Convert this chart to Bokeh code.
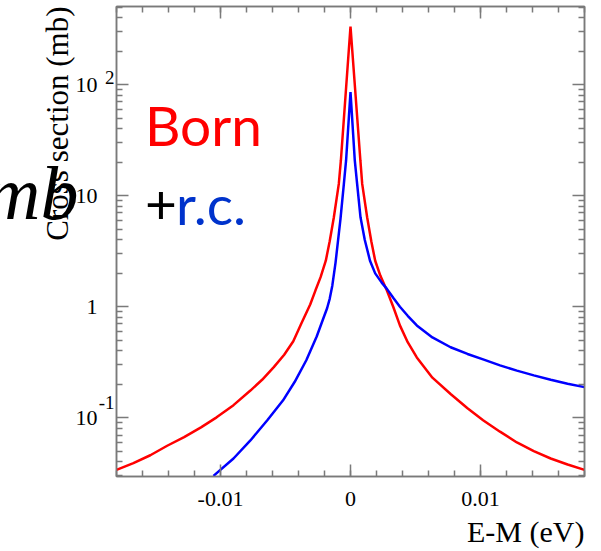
import numpy as np
from bokeh.plotting import figure
from bokeh.models import Range1d, FixedTicker, LinearAxis, LogAxis, Label, Title
from bokeh.embed import file_html
from bokeh.resources import INLINE

# ---- data ----
born_x = [-0.0180, -0.0167, -0.0154, -0.0141, -0.0128, -0.0115, -0.0103, -0.0090,
          -0.0077, -0.0068, -0.0059, -0.0051, -0.0044, -0.0038, -0.0031, -0.0027,
          -0.0023, -0.0019, -0.0016, -0.00128, -0.0009, -0.00074, 0.0,
          0.00076, 0.0009, 0.00128, 0.0016, 0.0019, 0.0023, 0.0028, 0.0033,
          0.0038, 0.0044, 0.0051, 0.0063, 0.0077, 0.0090, 0.0102, 0.0115,
          0.0128, 0.0141, 0.0154, 0.0167, 0.0180]
born_y = [0.034, 0.039, 0.046, 0.056, 0.067, 0.082, 0.101, 0.130,
          0.176, 0.22, 0.286, 0.37, 0.49, 0.70, 1.05, 1.40,
          1.85, 2.6, 3.9, 6.4, 12.8, 20.8, 335.0,
          20.8, 12.8, 6.4, 3.9, 2.6, 1.9, 1.40, 0.99,
          0.68, 0.48, 0.35, 0.23, 0.164, 0.122, 0.095, 0.075,
          0.060, 0.050, 0.043, 0.038, 0.034]

rc_x = [-0.01054, -0.0090, -0.0077, -0.0064, -0.0052, -0.0043, -0.0034, -0.0026,
        -0.0021, -0.0018, -0.0016, -0.0014, -0.00115, -0.00077, -0.00051, -0.00034, 0.0,
        0.00033, 0.00051, 0.00077, 0.0011, 0.0015, 0.0019, 0.0024, 0.0028, 0.0033,
        0.0038, 0.0044, 0.0051, 0.0063, 0.0077, 0.0090, 0.0102, 0.0115, 0.0128,
        0.0141, 0.0154, 0.0167, 0.0180]
rc_y = [0.030, 0.043, 0.0625, 0.095, 0.143, 0.21, 0.33, 0.54,
        0.78, 0.97, 1.18, 1.55, 2.5, 6.2, 12.8, 20.8, 86.0,
        20.8, 12.8, 6.4, 4.0, 2.6, 2.0, 1.65, 1.45, 1.20,
        1.0, 0.83, 0.68, 0.53, 0.432, 0.376, 0.336, 0.297, 0.266,
        0.241, 0.220, 0.203, 0.189]

x_ticks = [-0.01, 0.0, 0.01]
x_tick_labels = ["-0.01", "0", "0.01"]
y_ticks = [0.1, 1.0, 10.0, 100.0]
y_tick_base = ["10", "1", "10", "10"]
y_tick_exp = ["-1", "", "", "2"]

x_title = "E-M (eV)"
y_title = "Cross section (mb)"
unit_text = "mb"
unit_at = 10.0
born_text = "Born"
plus_text = "+"
rc_text = "r.c."

X_LO, X_HI = -0.018, 0.018
Y_LO, Y_HI = 0.0296, 507.0

# ---- layout constants (pixels) ----
SHIFT = 60                      # canvas starts left of the page edge
W, H = 593 + SHIFT, 551
BL, BR, BT, BB = 116 + SHIFT, 9, 6, 75
FRAME_H = H - BT - BB
PX_PER_DECADE = FRAME_H / np.log10(Y_HI / Y_LO)


def raised(v, px):
    """value on the log axis that sits `px` pixels above v"""
    return v * 10 ** (px / PX_PER_DECADE)


p = figure(width=W, height=H, y_axis_type="log",
           x_range=Range1d(X_LO, X_HI), y_range=Range1d(Y_LO, Y_HI),
           output_backend="svg", toolbar_location=None,
           min_border_left=BL, min_border_right=BR, min_border_top=BT, min_border_bottom=BB,
           styles={"margin-left": f"-{SHIFT}px"})
p.xgrid.visible = False
p.ygrid.visible = False
p.background_fill_color = "white"
p.border_fill_color = "white"
p.outline_line_color = "#7a7a7a"
p.outline_line_width = 1.5

x_minor = [round(v, 4) for v in np.arange(-0.018, 0.0181, 0.002)]
y_minor = [k * 10.0 ** e for e in range(-2, 3) for k in range(2, 10)]
x_ticker = FixedTicker(ticks=x_ticks, minor_ticks=x_minor)
y_ticker = FixedTicker(ticks=y_ticks, minor_ticks=y_minor)

AX = "#7a7a7a"


def style(ax):
    ax.axis_line_color = AX
    ax.axis_line_width = 1.5
    ax.major_tick_line_color = AX
    ax.minor_tick_line_color = AX
    ax.major_tick_line_width = 1.5
    ax.minor_tick_line_width = 1.5
    ax.major_tick_in = 12
    ax.major_tick_out = 0
    ax.minor_tick_in = 6
    ax.minor_tick_out = 0


def label_only(ax, font_size, standoff, style_="normal"):
    ax.axis_line_color = None
    ax.major_tick_line_color = None
    ax.minor_tick_line_color = None
    ax.major_tick_out = 0
    ax.major_tick_in = 0
    ax.minor_tick_out = 0
    ax.minor_tick_in = 0
    ax.major_label_text_font = "Liberation Serif"
    ax.major_label_text_font_size = f"{font_size}px"
    ax.major_label_text_font_style = style_
    ax.major_label_text_color = "black"
    ax.major_label_standoff = standoff


# bottom axis with its tick labels
xb = p.xaxis[0]
xb.ticker = x_ticker
style(xb)
xb.major_label_overrides = {t: s for t, s in zip(x_ticks, x_tick_labels)}
xb.major_label_text_font = "Liberation Serif"
xb.major_label_text_font_size = "22px"
xb.major_label_text_color = "black"
xb.major_label_standoff = 15

# left axis: ticks only
yl = p.yaxis[0]
yl.ticker = y_ticker
style(yl)
yl.major_label_overrides = {t: "" for t in y_ticks}
yl.major_label_standoff = 0

# superscripts of the y tick labels
sup_raise = {"2": 7, "-1": 15.5}
sup_vals = [raised(t, sup_raise[e]) for t, e in zip(y_ticks, y_tick_exp) if e]
sup_txt = [e for e in y_tick_exp if e]
ya_sup = LogAxis(ticker=FixedTicker(ticks=sup_vals, minor_ticks=[]))
label_only(ya_sup, 19, 2)
ya_sup.major_label_overrides = {v: s for v, s in zip(sup_vals, sup_txt)}
p.add_layout(ya_sup, "left")

# base numbers of the y tick labels
ya_base = LogAxis(ticker=FixedTicker(ticks=y_ticks, minor_ticks=[]))
label_only(ya_base, 22, -2)
ya_base.major_label_overrides = {t: s for t, s in zip(y_ticks, y_tick_base)}
p.add_layout(ya_base, "left")

# y title
p.add_layout(Title(text=y_title, align="right", standoff=-4,
                   text_font="Liberation Serif", text_font_size="31px",
                   text_font_style="normal", text_color="black"), "left")

# big italic unit text
unit_val = raised(unit_at, 3)
ya_unit = LogAxis(ticker=FixedTicker(ticks=[unit_val], minor_ticks=[]))
label_only(ya_unit, 76, -39, "italic")
ya_unit.major_label_overrides = {unit_val: unit_text}
p.add_layout(ya_unit, "left")

# x title
p.add_layout(Title(text=x_title, align="right", standoff=8,
                   text_font="Liberation Serif", text_font_size="30px",
                   text_font_style="normal", text_color="black"), "below")

top = LinearAxis(ticker=x_ticker)
style(top)
top.major_label_overrides = {t: "" for t in x_ticks}
top.major_label_standoff = 0
p.add_layout(top, "above")

right = LogAxis(ticker=y_ticker)
style(right)
right.major_label_overrides = {t: "" for t in y_ticks}
right.major_label_standoff = 0
p.add_layout(right, "right")

# ---- curves ----
p.line(born_x, born_y, line_color="#ff0000", line_width=2.5)
p.line(rc_x, rc_y, line_color="#0000ff", line_width=2.5)

# ---- legend-like texts inside the frame ----
p.add_layout(Label(x=-0.01581, y=43.0, text=born_text, text_align="left",
                   text_baseline="alphabetic", text_font="Lato", text_font_size="55px",
                   text_color="#ff0000"))
p.add_layout(Label(x=-0.01581, y=8.36, text=plus_text, text_align="left",
                   text_baseline="alphabetic", text_font="Lato", text_font_size="55px",
                   text_color="black"))
p.add_layout(Label(x=-0.01343, y=8.36, text=rc_text, text_align="left",
                   text_baseline="alphabetic", text_font="Lato", text_font_size="55px",
                   text_color="#0033cc"))

open("out.html", "w").write(file_html(p, INLINE))
